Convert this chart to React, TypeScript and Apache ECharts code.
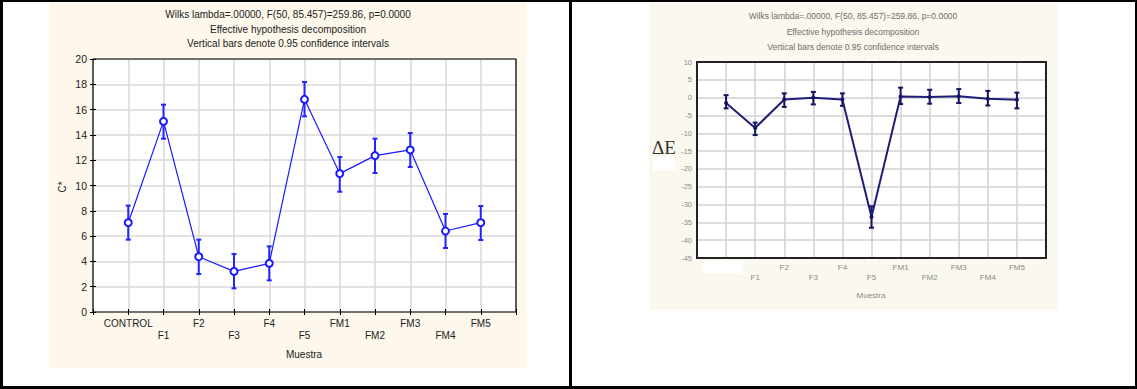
import React, { useEffect, useRef } from 'react';
import * as echarts from 'echarts';

// ---------- data ----------
const categories = ['CONTROL', 'F1', 'F2', 'F3', 'F4', 'F5', 'FM1', 'FM2', 'FM3', 'FM4', 'FM5'];

// left chart: C*
const cMean = [7.06, 15.07, 4.37, 3.21, 3.85, 16.81, 10.94, 12.36, 12.81, 6.4, 7.06];
const cLow = [5.72, 13.7, 3.0, 1.87, 2.5, 15.47, 9.51, 10.99, 11.46, 5.06, 5.69];
const cHigh = [8.41, 16.39, 5.72, 4.58, 5.19, 18.18, 12.25, 13.7, 14.15, 7.75, 8.38];

// right chart: ΔE
const eMean = [-1.5, -8.5, -0.5, 0.0, -0.5, -33.5, 0.3, 0.2, 0.4, -0.3, -0.6];
const eLow = [-3.0, -10.5, -2.6, -1.9, -2.3, -36.5, -1.8, -1.7, -1.5, -2.2, -3.0];
const eHigh = [0.7, -7.0, 1.2, 1.6, 1.2, -30.5, 2.8, 2.2, 2.4, 1.9, 1.4];

const titleLines = [
  'Wilks lambda=.00000, F(50, 85.457)=259.86, p=0.0000',
  'Effective hypothesis decomposition',
  'Vertical bars denote 0.95 confidence intervals',
];
const xName = 'Muestra';
const leftYName = 'C*';
const rightYName = 'ΔE';

// ---------- helpers ----------
const SANS = '"Liberation Sans", Arial, sans-serif';

function errRender(color: string, lw: number, cap: number) {
  return (params: any, api: any) => {
    const x = api.value(0);
    const lo = api.coord([x, api.value(1)]);
    const hi = api.coord([x, api.value(2)]);
    const st = { stroke: color, lineWidth: lw };
    return {
      type: 'group',
      children: [
        { type: 'line', shape: { x1: lo[0], y1: lo[1], x2: hi[0], y2: hi[1] }, style: st },
        { type: 'line', shape: { x1: lo[0] - cap, y1: lo[1], x2: lo[0] + cap, y2: lo[1] }, style: st },
        { type: 'line', shape: { x1: hi[0] - cap, y1: hi[1], x2: hi[0] + cap, y2: hi[1] }, style: st },
      ],
    };
  };
}

function catFormatter(skipFirst: boolean) {
  return (v: number) => {
    const i = Math.round(v) - 1;
    if (i < 0 || i >= categories.length) return '';
    if (skipFirst && i === 0) return '';
    return i % 2 === 1 ? '\n' + categories[i] : categories[i];
  };
}

function txt(text: string, x: number, y: number, font: string, fill: string, extra: any = {}) {
  return {
    type: 'text',
    x,
    y,
    z: 100,
    ...extra,
    style: {
      text,
      font,
      fill,
      textAlign: 'center',
      textVerticalAlign: 'middle',
      align: 'center',
      verticalAlign: 'middle',
    },
  };
}

const LG = { left: 93, top: 59, width: 423, height: 253 };
const RG = { left: 697, top: 62, width: 349, height: 196 };

export default function App() {
  const ref = useRef<HTMLDivElement>(null);

  useEffect(() => {
    const chart = echarts.init(ref.current!, null, { renderer: 'svg' });

    const hiddenAxis = (extra: any) => ({
      type: 'value',
      axisLine: { show: false },
      axisLabel: { show: false },
      splitLine: { show: false },
      ...extra,
    });

    const option: any = {
      animation: false,
      backgroundColor: 'transparent',
      grid: [
        { ...LG, show: true, backgroundColor: '#ffffff', borderWidth: 0, containLabel: false, outerBoundsMode: 'none' },
        { ...RG, show: true, backgroundColor: '#ffffff', borderWidth: 0, containLabel: false, outerBoundsMode: 'none' },
      ],
      xAxis: [
        {
          type: 'value', gridIndex: 0, position: 'bottom', min: 0, max: 12, interval: 1,
          axisLine: { show: false },
          axisTick: { show: true, inside: true, length: 3, lineStyle: { color: '#000' } },
          axisLabel: {
            formatter: catFormatter(false), fontSize: 10, lineHeight: 12, margin: 5,
            color: '#222', fontFamily: SANS, hideOverlap: false,
          },
          splitLine: { show: true, lineStyle: { color: '#d9d9d9', width: 1.5 } },
        },
        hiddenAxis({
          gridIndex: 0, position: 'top', min: 0, max: 12, interval: 1,
          axisTick: { show: true, inside: true, length: 3, lineStyle: { color: '#000' } },
        }),
        {
          type: 'value', gridIndex: 1, position: 'bottom', min: 0, max: 12, interval: 1,
          axisLine: { show: false },
          axisTick: { show: false },
          axisLabel: {
            formatter: catFormatter(true), fontSize: 8, lineHeight: 10, margin: 4,
            color: '#8a8a8a', fontFamily: SANS, hideOverlap: false,
          },
          splitLine: { show: true, lineStyle: { color: '#d2d2d2', width: 1.5 } },
        },
      ],
      yAxis: [
        {
          type: 'value', gridIndex: 0, position: 'left', min: 0, max: 20, interval: 2,
          axisLine: { show: false },
          axisTick: { show: true, inside: true, length: 3, lineStyle: { color: '#000' } },
          axisLabel: { fontSize: 10.5, margin: 6, color: '#222', fontFamily: SANS },
          splitLine: { show: true, lineStyle: { color: '#d9d9d9', width: 1.5 } },
        },
        hiddenAxis({
          gridIndex: 0, position: 'right', min: 0, max: 20, interval: 2,
          axisTick: { show: true, inside: true, length: 3, lineStyle: { color: '#000' } },
        }),
        {
          type: 'value', gridIndex: 1, position: 'left', min: -45, max: 10, interval: 5,
          axisLine: { show: false },
          axisTick: { show: false },
          axisLabel: { fontSize: 7.5, margin: 5, color: '#8a8a8a', fontFamily: SANS },
          splitLine: { show: true, lineStyle: { color: '#d2d2d2', width: 1.5 } },
        },
      ],
      series: [
        {
          type: 'line', xAxisIndex: 0, yAxisIndex: 0, z: 3,
          data: cMean.map((v, i) => [i + 1, v]),
          lineStyle: { color: '#1a1aff', width: 1.2 },
          symbol: 'emptyCircle', symbolSize: 7,
          itemStyle: { color: '#1a1aff', borderColor: '#1a1aff', borderWidth: 1.3 },
        },
        {
          type: 'custom', xAxisIndex: 0, yAxisIndex: 0, z: 2,
          data: categories.map((_, i) => [i + 1, cLow[i], cHigh[i]]),
          encode: { x: 0, y: [1, 2] },
          renderItem: errRender('#2424ff', 2, 2.5),
        },
        {
          type: 'line', xAxisIndex: 2, yAxisIndex: 2, z: 3,
          data: eMean.map((v, i) => [i + 1, v]),
          lineStyle: { color: '#1e1e78', width: 2 },
          symbol: 'circle', symbolSize: 4,
          itemStyle: { color: '#141464' },
        },
        {
          type: 'custom', xAxisIndex: 2, yAxisIndex: 2, z: 2,
          data: categories.map((_, i) => [i + 1, eLow[i], eHigh[i]]),
          encode: { x: 0, y: [1, 2] },
          renderItem: errRender('#141460', 2, 2.5),
        },
      ],
      graphic: [
        // plot borders
        { type: 'rect', z: 100, shape: { x: LG.left, y: LG.top, width: LG.width, height: LG.height }, style: { fill: 'none', stroke: '#000', lineWidth: 1.2 } },
        { type: 'rect', z: 100, shape: { x: RG.left, y: RG.top, width: RG.width, height: RG.height }, style: { fill: 'none', stroke: '#222', lineWidth: 2 } },
        // white patches in the scanned figure
        { type: 'rect', z: 100, shape: { x: 703, y: 261, width: 40, height: 12 }, style: { fill: '#ffffff' } },
        { type: 'rect', z: 100, shape: { x: 653, y: 157, width: 22, height: 13 }, style: { fill: '#ffffff' } },
        // left texts
        txt(titleLines[0], 288, 14.5, `10px ${SANS}`, '#222'),
        txt(titleLines[1], 288, 29.5, `10px ${SANS}`, '#222'),
        txt(titleLines[2], 288, 43.5, `10px ${SANS}`, '#222'),
        txt(leftYName, 62.5, 187, `10px ${SANS}`, '#222', { rotation: Math.PI / 2 }),
        txt(xName, 304, 354, `10px ${SANS}`, '#222'),
        // right texts
        txt(titleLines[0], 853, 16, `8.5px ${SANS}`, '#6e6e6e'),
        txt(titleLines[1], 853, 32, `8.5px ${SANS}`, '#6e6e6e'),
        txt(titleLines[2], 853, 47, `8.5px ${SANS}`, '#6e6e6e'),
        txt(rightYName, 664, 147, `19px "Liberation Serif", "Times New Roman", serif`, '#333'),
        txt(xName, 871, 295, `8px ${SANS}`, '#8a8a8a'),
      ],
    };

    chart.setOption(option);
    return () => chart.dispose();
  }, []);

  const box = (s: any) => <div style={{ position: 'absolute', ...s }} />;

  return (
    <div style={{ position: 'fixed', left: 0, top: 0, width: 1137, height: 389, background: '#fff', overflow: 'hidden' }}>
      {box({ left: 49, top: 3, width: 478, height: 365, background: '#fdf8eb' })}
      {box({ left: 649, top: 3, width: 409, height: 307, background: '#fbf8ef' })}
      {box({ left: 0, top: 0, width: 1137, height: 2, background: '#000' })}
      {box({ left: 0, top: 386, width: 1137, height: 3, background: '#000' })}
      {box({ left: 0, top: 0, width: 3, height: 389, background: '#000' })}
      {box({ left: 1135, top: 0, width: 2, height: 389, background: '#000' })}
      {box({ left: 569, top: 0, width: 3, height: 389, background: '#000' })}
      <div ref={ref} style={{ position: 'absolute', left: 0, top: 0, width: 1137, height: 389 }} />
    </div>
  );
}
